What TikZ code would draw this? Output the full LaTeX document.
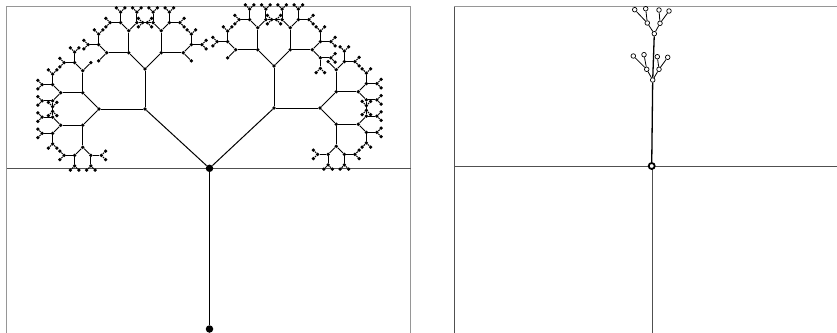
\documentclass[tikz,border=0pt]{standalone}
\usetikzlibrary{calc}
\definecolor{framegray}{RGB}{150,150,150}
\definecolor{axisgray}{RGB}{80,80,80}
\tikzset{
  tdot/.style={circle,fill=black,inner sep=0pt,minimum size=3.6pt},
  bigdot/.style={circle,fill=black,inner sep=0pt,minimum size=7.5pt},
  tedge/.style={draw=black,line width=1pt},
  trunk/.style={draw=black,line width=1.5pt},
  frame/.style={draw=framegray,line width=0.9pt},
  axisline/.style={draw=axisgray,line width=0.9pt},
  odot/.style={circle,draw=black,fill=white,line width=0.7pt,inner sep=0pt,minimum size=4.6pt},
  rootring/.style={circle,draw=black,fill=white,line width=1.8pt,inner sep=0pt,minimum size=6pt},
  oedge/.style={draw=black,line width=0.8pt}
}
% branches that stop (inward-pointing twigs)
\expandafter\def\csname prune@LAaabbb\endcsname{}
\expandafter\def\csname prune@LAabaaa\endcsname{}
\expandafter\def\csname prune@LAabbbb\endcsname{}
\expandafter\def\csname prune@LAbaaaa\endcsname{}
\expandafter\def\csname prune@LAbbaaa\endcsname{}
\newcommand\growtree[3]{%
  \ifnum#2<7\relax
  \ifcsname prune@#1\endcsname\else
    \pgfmathtruncatemacro\nd{#2+1}%
    \pgfmathsetmacro\len{{0,88,42,23,22,11.5,10.5,6}[\nd]}%
    \pgfmathsetmacro\aL{#3+45}%
    \pgfmathsetmacro\aR{#3-45}%
    \node[tdot] (#1a) at ($(#1)+(\aL:\len pt)$) {};
    \draw[tedge] (#1) -- (#1a);
    \node[tdot] (#1b) at ($(#1)+(\aR:\len pt)$) {};
    \draw[tedge] (#1) -- (#1b);
    \begingroup\edef\x{\noexpand\growtree{#1a}{\nd}{\aL}}\x\endgroup
    \begingroup\edef\x{\noexpand\growtree{#1b}{\nd}{\aR}}\x\endgroup
  \fi
  \fi}
\begin{document}
\begin{tikzpicture}[x=1pt,y=-1pt]
\useasboundingbox (0,0) rectangle (837,332);
% ---- left panel frame
\draw[frame] (6.5,340) -- (6.5,6.7) -- (410.5,6.7) -- (410.5,340);
\draw[axisline] (6.5,168.3) -- (410.5,168.3);
% ---- left tree
\node[bigdot] (Lroot) at (209.5,329) {};
\node[bigdot] (LA) at (209.5,168.3) {};
\draw[trunk] (Lroot) -- (LA);
\node[tdot] (LAa) at (145,109) {};
\node[tdot] (LAb) at (274,108) {};
\draw[tedge] (LA) -- (LAa);
\draw[tedge] (LA) -- (LAb);
\node[tdot] (LAaa) at (99,109) {};
\node[tdot] (LAab) at (145,69) {};
\node[tdot] (LAba) at (274,66) {};
\node[tdot] (LAbb) at (320,108) {};
\draw[tedge] (LAa) -- (LAaa);
\draw[tedge] (LAa) -- (LAab);
\draw[tedge] (LAb) -- (LAba);
\draw[tedge] (LAb) -- (LAbb);
\growtree{LAaa}{2}{180}
\growtree{LAab}{2}{90}
\growtree{LAba}{2}{90}
\growtree{LAbb}{2}{0}
% ---- right panel frame
\draw[axisline] (454,340) -- (454,6);
\draw[frame] (454,6) -- (840,6);
\draw[axisline] (454,166) -- (840,166);
\draw[axisline] (652,166) -- (652,340);
% ---- right tree
\node[rootring] (R0) at (651.7,166) {};
\node[odot] (R1) at (652.7,80) {};
\node[odot] (R2) at (654.3,33.7) {};
\draw[trunk,line width=1.3pt] (R0) -- (R1);
\draw[trunk,line width=1.3pt] (R1) -- (R2);
\node[odot] (R1a) at (646.7,69.3) {};
\node[odot] (R1b) at (659,69.3) {};
\node[odot] (R1aa) at (633.3,56) {};
\node[odot] (R1ab) at (644,54.7) {};
\node[odot] (R1ba) at (657.3,56.7) {};
\node[odot] (R1bb) at (667.7,57.3) {};
\node[odot] (R2a) at (647.3,23) {};
\node[odot] (R2b) at (660,23.3) {};
\node[odot] (R2aa) at (634.7,9.7) {};
\node[odot] (R2ab) at (645.7,8.7) {};
\node[odot] (R2ba) at (659,10) {};
\node[odot] (R2bb) at (669,11) {};
\draw[oedge] (R1) -- (R1a);
\draw[oedge] (R1) -- (R1b);
\draw[oedge] (R1a) -- (R1aa);
\draw[oedge] (R1a) -- (R1ab);
\draw[oedge] (R1b) -- (R1ba);
\draw[oedge] (R1b) -- (R1bb);
\draw[oedge] (R2) -- (R2a);
\draw[oedge] (R2) -- (R2b);
\draw[oedge] (R2a) -- (R2aa);
\draw[oedge] (R2a) -- (R2ab);
\draw[oedge] (R2b) -- (R2ba);
\draw[oedge] (R2b) -- (R2bb);
\end{tikzpicture}
\end{document}
